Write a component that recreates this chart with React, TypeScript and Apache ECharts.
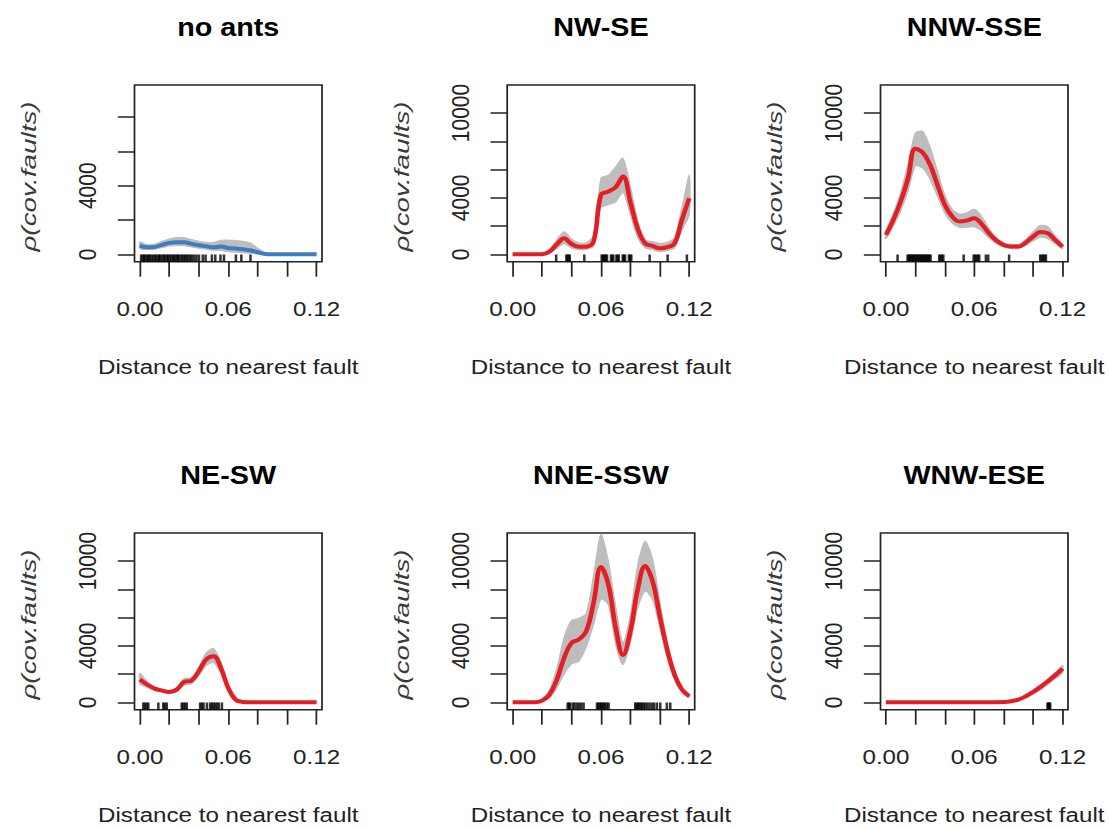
import React, { useEffect, useRef } from "react";
import * as echarts from "echarts";

// ---------------- data ----------------
const panelTitles = ["no ants", "NW-SE", "NNW-SSE", "NE-SW", "NNE-SSW", "WNW-ESE"];
const xAxisTitle = "Distance to nearest fault";
const yAxisTitle = "ρ(cov.faults)";

const xGrid = [0, 0.005, 0.01, 0.015, 0.02, 0.025, 0.03, 0.035, 0.04, 0.045, 0.05, 0.055, 0.06, 0.065, 0.07, 0.075, 0.08, 0.085, 0.09, 0.095, 0.1, 0.105, 0.11, 0.115, 0.12];

const xTickValues = [0, 0.02, 0.04, 0.06, 0.08, 0.1, 0.12];
const xLabelValues = [0, 0.06, 0.12];
const yTickValuesNoAnts = [0, 2000, 4000, 6000, 8000];
const yLabelValuesNoAnts = [0, 4000];
const yTickValues = [0, 2000, 4000, 6000, 8000, 10000];
const yLabelValues = [0, 4000, 10000];

// no ants
const noAntsLine = [510, 410, 430, 550, 665, 705, 705, 610, 530, 470, 410, 450, 370, 335, 295, 235, 120, 20, 5, 2, 0, 0, 0, 0, 0];
const noAntsUpper = [720, 570, 600, 760, 900, 980, 980, 860, 760, 700, 690, 820, 840, 800, 760, 680, 360, 100, 25, 10, 8, 6, 6, 6, 6];
const noAntsLower = [330, 280, 290, 390, 480, 500, 500, 420, 350, 290, 230, 220, 150, 120, 90, 60, 20, 0, 0, 0, 0, 0, 0, 0, 0];
const noAntsRug = [0.0008, 0.0019, 0.0027, 0.0036, 0.0049, 0.0058, 0.0066, 0.0078, 0.0089, 0.0101, 0.0109, 0.0122, 0.0131, 0.0139, 0.0152, 0.0163, 0.0171, 0.0184, 0.0192, 0.0203, 0.0214, 0.0226, 0.0233, 0.0245, 0.0256, 0.0262, 0.0275, 0.0287, 0.0296, 0.0308, 0.0317, 0.0329, 0.0341, 0.0352, 0.0368, 0.0384, 0.0401, 0.0427, 0.0446, 0.0489, 0.0512, 0.0547, 0.0571, 0.0652, 0.0689, 0.0751];

// NW-SE
const nwseLine = [0, 0, 0, 0, 10, 190, 700, 1130, 730, 540, 540, 900, 4200, 4450, 4750, 5500, 3700, 1800, 780, 590, 425, 500, 780, 2435, 3970];
const nwseUpper = [15, 15, 15, 20, 40, 320, 1050, 1600, 1100, 820, 820, 1350, 5400, 5600, 6200, 6800, 4800, 2400, 1050, 900, 780, 850, 1200, 3300, 5600];
const nwseLower = [0, 0, 0, 0, 0, 90, 400, 750, 450, 330, 330, 580, 3300, 3500, 3700, 4400, 2800, 1150, 450, 330, 180, 250, 450, 1700, 2800];
const nwseRug = [0.0296, 0.0365, 0.0372, 0.0381, 0.0388, 0.0487, 0.0605, 0.0612, 0.0619, 0.0627, 0.0634, 0.0641, 0.0668, 0.0676, 0.0684, 0.0705, 0.0713, 0.0721, 0.0748, 0.0756, 0.0764, 0.079, 0.0798, 0.0806, 0.0931, 0.1053, 0.1184];

// NNW-SSE
const nnwsseLine = [1370, 2435, 3735, 5390, 7480, 7200, 6335, 4920, 3500, 2670, 2320, 2390, 2550, 2150, 1490, 970, 660, 545, 545, 830, 1250, 1580, 1490, 1015, 545];
const nnwsseUpper = [1650, 2900, 4400, 6400, 8600, 8700, 7600, 5900, 4200, 3200, 2850, 2950, 3200, 2700, 1850, 1200, 820, 700, 700, 1050, 1600, 2050, 1950, 1300, 700];
const nnwsseLower = [1100, 2000, 3050, 4450, 6250, 6100, 5300, 4100, 2900, 2200, 1900, 1900, 1950, 1650, 1150, 750, 500, 400, 400, 630, 950, 1200, 1100, 750, 400];
const nnwsseRug = [0.0079, 0.0147, 0.0155, 0.0162, 0.017, 0.0178, 0.0186, 0.0193, 0.0201, 0.0209, 0.0217, 0.0224, 0.0232, 0.024, 0.0248, 0.0256, 0.0263, 0.0271, 0.0279, 0.0287, 0.0295, 0.0303, 0.0362, 0.0371, 0.038, 0.039, 0.0528, 0.0596, 0.0606, 0.0615, 0.0625, 0.0634, 0.0679, 0.0695, 0.0837, 0.1048, 0.1058, 0.1068, 0.1078, 0.1087];

// NE-SW
const neswLine = [1610, 1250, 970, 830, 730, 900, 1440, 1540, 2200, 3030, 3260, 2435, 1015, 190, 25, 10, 5, 5, 5, 5, 5, 5, 5, 5, 5];
const neswUpper = [2050, 1450, 1100, 950, 830, 1050, 1700, 1750, 2500, 3500, 3800, 2850, 1200, 260, 50, 20, 20, 20, 20, 20, 20, 20, 20, 20, 20];
const neswLower = [1300, 1050, 850, 720, 630, 770, 1200, 1300, 1900, 2600, 2800, 2050, 850, 130, 10, 0, 0, 0, 0, 0, 0, 0, 0, 0, 0];
const neswRug = [0.0023, 0.0034, 0.0046, 0.0057, 0.0125, 0.0159, 0.0168, 0.0182, 0.0284, 0.0295, 0.0306, 0.0318, 0.0409, 0.0421, 0.0432, 0.0455, 0.0477, 0.0488, 0.0499, 0.0511, 0.0524, 0.0536, 0.0557];

// NNE-SSW
const nnesswLine = [0, 0, 0, 0, 118, 545, 1600, 3145, 4210, 4440, 5035, 7045, 9575, 8345, 5270, 3350, 5035, 7990, 9645, 8580, 6100, 3735, 1960, 900, 425];
const nnesswUpper = [5, 5, 5, 10, 220, 850, 2400, 4600, 5800, 5950, 6300, 9000, 11900, 10000, 6800, 4200, 6200, 9760, 11400, 10200, 7160, 4330, 2320, 1100, 520];
const nnesswLower = [0, 0, 0, 0, 40, 300, 1000, 2000, 2700, 2900, 3900, 5500, 7300, 6900, 4090, 2670, 4200, 6690, 7870, 7280, 5270, 3140, 1600, 750, 340];
const nnesswRug = [0.0374, 0.0383, 0.0392, 0.041, 0.0421, 0.0437, 0.0451, 0.0466, 0.0482, 0.0573, 0.0582, 0.0591, 0.06, 0.0609, 0.0618, 0.0627, 0.064, 0.0652, 0.0833, 0.0842, 0.0851, 0.086, 0.087, 0.0879, 0.089, 0.0901, 0.0915, 0.093, 0.0946, 0.0961, 0.098, 0.1003, 0.1048, 0.1071];

// WNW-ESE
const wnweseLine = [10, 10, 10, 10, 10, 10, 10, 10, 10, 10, 10, 10, 10, 10, 10, 10, 20, 70, 190, 425, 730, 1090, 1490, 1915, 2390];
const wnweseUpper = [30, 30, 30, 30, 30, 30, 30, 30, 30, 30, 30, 30, 30, 30, 30, 30, 50, 110, 250, 500, 830, 1220, 1650, 2100, 2600];
const wnweseLower = [0, 0, 0, 0, 0, 0, 0, 0, 0, 0, 0, 0, 0, 0, 0, 0, 5, 40, 120, 320, 580, 880, 1250, 1650, 2100];
const wnweseRug = [0.1098, 0.1104, 0.111, 0.1116];

// ---------------- layout / style ----------------
const W = 964; // chart is drawn at this width, then stretched to 1109 px
const S = 1109 / W;
const FONT = "'Liberation Sans', Arial, Helvetica, sans-serif";
const RED = "#e31e24";
const BLUE = "#3b7dbf";
const GRAY = "#bdbdbd";
const INK = "#222222";

const GRID_LEFT_REF = [134.5, 507.2, 880.5];
const GRID_W_REF = 187.5;
const GRID_TOP = [85, 533];
const GRID_H = 176.7;
const X_MIN = -0.0037;
const X_MAX = 0.1237;

const panels = [
  { line: noAntsLine, upper: noAntsUpper, lower: noAntsLower, rug: noAntsRug, color: BLUE, yMin: -431, yMax: 9872, ticks: yTickValuesNoAnts, labels: yLabelValuesNoAnts },
  { line: nwseLine, upper: nwseUpper, lower: nwseLower, rug: nwseRug, color: RED, yMin: -524, yMax: 11985, ticks: yTickValues, labels: yLabelValues },
  { line: nnwsseLine, upper: nnwsseUpper, lower: nnwsseLower, rug: nnwsseRug, color: RED, yMin: -524, yMax: 11985, ticks: yTickValues, labels: yLabelValues },
  { line: neswLine, upper: neswUpper, lower: neswLower, rug: neswRug, color: RED, yMin: -524, yMax: 11985, ticks: yTickValues, labels: yLabelValues },
  { line: nnesswLine, upper: nnesswUpper, lower: nnesswLower, rug: nnesswRug, color: RED, yMin: -524, yMax: 11985, ticks: yTickValues, labels: yLabelValues },
  { line: wnweseLine, upper: wnweseUpper, lower: wnweseLower, rug: wnweseRug, color: RED, yMin: -524, yMax: 11985, ticks: yTickValues, labels: yLabelValues },
];

function buildOption() {
  const grid: any[] = [];
  const xAxis: any[] = [];
  const yAxis: any[] = [];
  const series: any[] = [];
  const graphic: any[] = [];

  panels.forEach((p, i) => {
    const c = i % 3;
    const r = Math.floor(i / 3);
    grid.push({
      left: GRID_LEFT_REF[c] / S,
      top: GRID_TOP[r],
      width: GRID_W_REF / S,
      height: GRID_H,
      show: true,
      borderColor: INK,
      borderWidth: 1.5,
      backgroundColor: "transparent",
    });
    xAxis.push({
      type: "value",
      gridIndex: i,
      min: X_MIN,
      max: X_MAX,
      axisLine: { show: false, onZero: false },
      axisTick: { show: true, length: 15, customValues: xTickValues, lineStyle: { color: INK, width: 1.5 } },
      axisLabel: {
        customValues: xLabelValues,
        formatter: (v: number) => v.toFixed(2),
        fontSize: 21,
        fontFamily: FONT,
        color: INK,
        margin: 37,
      },
      splitLine: { show: false },
      name: xAxisTitle,
      nameLocation: "middle",
      nameGap: 95,
      nameTextStyle: { fontSize: 21, fontFamily: FONT, color: INK },
    });
    yAxis.push({
      type: "value",
      gridIndex: i,
      min: p.yMin,
      max: p.yMax,
      axisLine: { show: false, onZero: false },
      axisTick: { show: true, length: 14.5, customValues: p.ticks, lineStyle: { color: INK, width: 1.5 } },
      axisLabel: {
        customValues: p.labels,
        formatter: (v: number) => String(v),
        rotate: 90,
        fontSize: 21,
        fontFamily: FONT,
        color: INK,
        margin: 30,
      },
      splitLine: { show: false },
    });

    // confidence band as one polygon through the axis scales
    series.push({
      type: "custom",
      xAxisIndex: i,
      yAxisIndex: i,
      data: xGrid.map((x, k) => [x, p.lower[k], p.upper[k]]),
      encode: { x: 0, y: [1, 2] },
      clip: true,
      silent: true,
      z: 1,
      renderItem: (params: any, api: any) => {
        if (params.dataIndex !== 0) return null;
        const top = xGrid.map((x, k) => api.coord([x, p.upper[k]]));
        const bottom = xGrid.map((x, k) => api.coord([x, p.lower[k]])).reverse();
        return {
          type: "polygon",
          shape: { points: top.concat(bottom), smooth: 0.25 },
          style: { fill: GRAY, stroke: GRAY, lineWidth: 1 },
        };
      },
    });
    series.push({
      type: "line",
      xAxisIndex: i,
      yAxisIndex: i,
      data: xGrid.map((x, k) => [x, p.line[k]]),
      symbol: "none",
      smooth: 0.4,
      lineStyle: { color: p.color, width: 4 },
      itemStyle: { color: p.color },
      silent: true,
      z: 3,
    });
    series.push({
      type: "scatter",
      xAxisIndex: i,
      yAxisIndex: i,
      data: p.rug.map((x) => [x, p.yMin / 2]),
      symbol: "rect",
      symbolSize: [2.2, 7],
      itemStyle: { color: "#000" },
      silent: true,
      z: 4,
    });

    graphic.push({
      type: "text",
      x: (GRID_LEFT_REF[c] + GRID_W_REF / 2) / S,
      y: r === 0 ? 27.7 : 475.7,
      style: {
        text: panelTitles[i],
        font: `bold 25px ${FONT}`,
        fill: "#000",
        textAlign: "center",
        textVerticalAlign: "middle",
      },
    });
    graphic.push({
      type: "text",
      x: (GRID_LEFT_REF[c] - 105.5) / S,
      y: r === 0 ? 176.5 : 624.5,
      rotation: Math.PI / 2,
      scaleX: 1.55,
      style: {
        text: yAxisTitle,
        font: `italic 18px ${FONT}`,
        fill: "#3a3a3a",
        textAlign: "center",
        textVerticalAlign: "middle",
      },
    });
  });

  return {
    animation: false,
    backgroundColor: "#ffffff",
    grid,
    xAxis,
    yAxis,
    series,
    graphic,
  };
}

export default function App() {
  const ref = useRef<HTMLDivElement>(null);
  useEffect(() => {
    if (!ref.current) return;
    const chart = echarts.init(ref.current, null, { renderer: "svg" });
    chart.setOption(buildOption() as any);
    return () => chart.dispose();
  }, []);
  return (
    <div style={{ position: "absolute", left: 0, top: 0, width: 1109, height: 829, overflow: "hidden", background: "#fff" }}>
      <div
        ref={ref}
        style={{ width: W, height: 829, transform: `scaleX(${S})`, transformOrigin: "0 0" }}
      />
    </div>
  );
}
